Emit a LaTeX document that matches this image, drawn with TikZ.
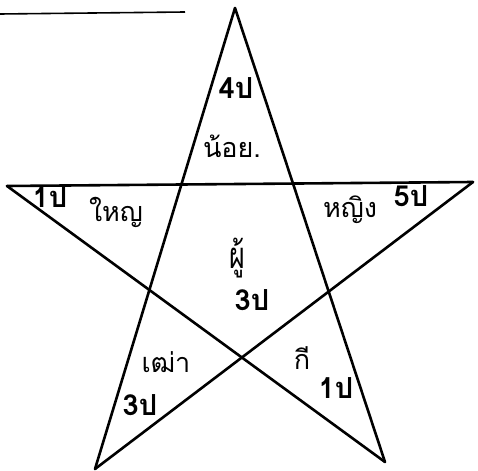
\documentclass[tikz,border=0pt]{standalone}
\usepackage{fontspec}
\newfontfamily\thaifont[Script=Thai]{Loma}
\begin{document}
\begin{tikzpicture}[x=1pt,y=-1pt,
  edge/.style={line width=2.6pt,line cap=round,line join=round},
  lbl/.style={font=\thaifont\fontsize{27}{27}\selectfont,inner sep=0pt},
  num/.style={font=\thaifont\bfseries\fontsize{29}{29}\selectfont,inner sep=0pt}]
\useasboundingbox (0,0) rectangle (478,470);
% star vertices
\coordinate (T) at (235,8);
\coordinate (L) at (7,186);
\coordinate (R) at (473,182);
\coordinate (BL) at (95,469);
\coordinate (BR) at (385,462);
\draw[edge] (T) -- (BL);
\draw[edge] (T) -- (BR);
\draw[edge] (L) -- (R);
\draw[edge] (L) -- (BR);
\draw[edge] (R) -- (BL);
% header underline (cut-off caption)
\coordinate (u1) at (0,14);
\coordinate (u2) at (185,12);
\draw[line width=1.6pt] (u1) -- (u2);
% labels
\node[num] (n4) at (236,88) {4ป};
\node[lbl] (noi) at (232,146) {น้อย.};
\node[num] (n1a) at (50,197) {1ป};
\node[lbl] (yai) at (116,212) {ใหญ};
\node[lbl] (ying) at (350,210) {หญิง};
\node[num] (n5) at (411,196) {5ป};
\node[lbl,yscale=1.35] (phu) at (237,258) {ผู้};
\node[num] (n3a) at (252,300) {3ป};
\node[lbl] (thao) at (166,362) {เฒ่า};
\node[num] (n3b) at (140,405) {3ป};
\node[lbl] (ki) at (302,358) {กี};
\node[num] (n1b) at (336,388) {1ป};
\end{tikzpicture}
\end{document}
